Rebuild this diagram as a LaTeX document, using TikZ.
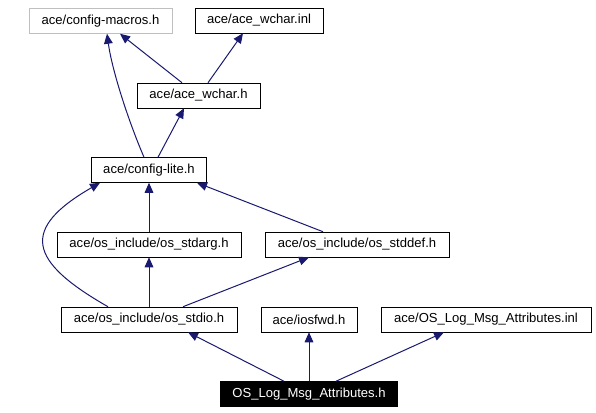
\documentclass[tikz,border=0pt]{standalone}
\usepackage{fontspec}
\setmainfont{Liberation Sans}
\usetikzlibrary{arrows.meta, calc}

\definecolor{lienbleu}{RGB}{25,25,112}

\begin{document}
\begin{tikzpicture}[
                x=0.75pt, y=-0.75pt,
                fichier/.style={draw, rectangle, inner sep=0pt, minimum height=18.75pt, font=\fontsize{9.8}{12}\selectfont},
                externe/.style={fichier, draw=black!25},
                courant/.style={fichier, fill=black, text=white},
                dep/.style={draw=lienbleu, line width=0.75pt, -{Triangle[length=7.5pt, width=6.5pt]}, fill=none}
            ]
            \useasboundingbox (0,0) rectangle (596,413);

            % Niveau 0 : en-tetes de base
            \node[externe, minimum width=107.25pt] (macros) at (100.5,21) {ace/config-macros.h};
            \node[fichier, minimum width=96pt] (winl) at (259,20.5) {ace/ace\_wchar.inl};
            \node[fichier, minimum width=92.25pt] (wh) at (198.5,95.5) {ace/ace\_wchar.h};
            \node[fichier, minimum width=86.25pt] (lite) at (149,170) {ace/config-lite.h};

            % Niveau 1 : os_include
            \node[fichier, minimum width=138pt] (stdarg) at (149,244.5) {ace/os\_include/os\_stdarg.h};
            \node[fichier, minimum width=138pt] (stddef) at (357,244.5) {ace/os\_include/os\_stddef.h};

            % Niveau 2 : inclusions directes
            \node[fichier, minimum width=132pt] (stdio) at (149,319.5) {ace/os\_include/os\_stdio.h};
            \node[fichier, minimum width=72pt] (iosfwd) at (309,319.5) {ace/iosfwd.h};
            \node[fichier, minimum width=157.5pt] (msginl) at (486,319.5) {ace/OS\_Log\_Msg\_Attributes.inl};

            % Le fichier courant
            \node[courant, minimum width=132.75pt] (msgh) at (309,394) {OS\_Log\_Msg\_Attributes.h};

            % Liens d'inclusion
            \draw[dep] ($(msgh.north)+(-25,0)$) -- ($(stdio.south)+(39,0)$);
            \draw[dep] (msgh.north) -- (iosfwd.south);
            \draw[dep] ($(msgh.north)+(27,0)$) -- ($(msginl.south)+(-42,0)$);

            \draw[dep] (stdio.north) -- (stdarg.south);
            \draw[dep] ($(stdio.north)+(34,0)$) -- ($(stddef.south)+(-48,0)$);
            \draw[dep] ($(stdio.north)+(-41,0)$) .. controls (28,261) and (20,229) .. ($(lite.south)+(-49,0)$);

            \draw[dep] (stdarg.north) -- (lite.south);
            \draw[dep] ($(stddef.north)+(-34,0)$) -- ($(lite.south)+(48,0)$);

            \draw[dep] ($(lite.north)+(9,0)$) -- ($(wh.south)+(-14.5,0)$);
            \draw[dep] ($(lite.north)+(-5,0)$) .. controls (128,120) and (112,70) .. ($(macros.south)+(6.5,0)$);

            \draw[dep] ($(wh.north)+(-16.5,0)$) -- ($(macros.south)+(19.5,0)$);
            \draw[dep] ($(wh.north)+(9.5,0)$) -- ($(winl.south)+(-16,0)$);

        \end{tikzpicture}
\end{document}
